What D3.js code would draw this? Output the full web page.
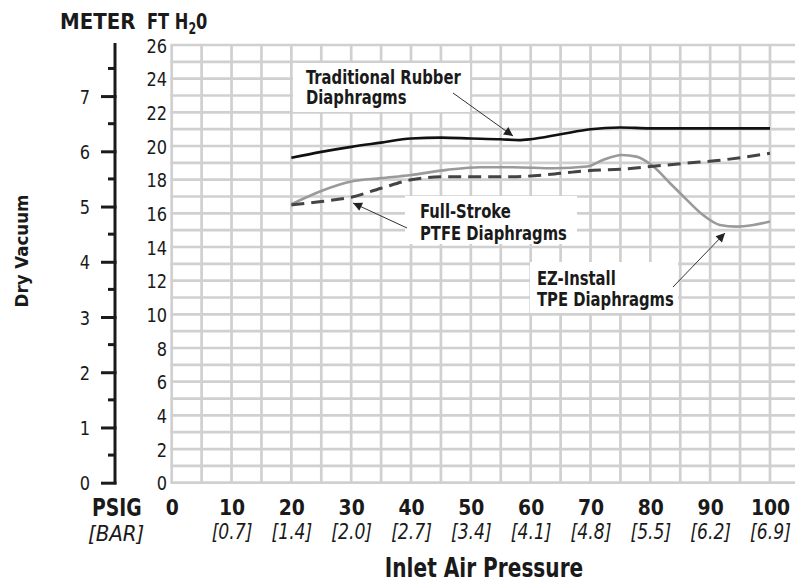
<!DOCTYPE html>
<html><head><meta charset="utf-8">
<script src="https://cdn.jsdelivr.net/npm/d3@7"></script>
<style>
body{margin:0;background:#fff;}
svg{display:block;}
</style></head>
<body>
<svg id="c" width="795" height="583"></svg>
<script>
// ---- data ----
const psigTicks = [0,10,20,30,40,50,60,70,80,90,100];
const barLabels = ["","[0.7]","[1.4]","[2.0]","[2.7]","[3.4]","[4.1]","[4.8]","[5.5]","[6.2]","[6.9]"];
const ftTicks = [0,2,4,6,8,10,12,14,16,18,20,22,24,26];
const meterTicks = [0,1,2,3,4,5,6,7];
const meterMinorTicks = [0.5,1.5,2.5,3.5,4.5,5.5,6.5,7.5];

const rubberPsi = [20,25,30,35,40,45,50,55,58,60,65,70,75,80,90,100];
const rubberFt  = [19.3,19.65,19.95,20.2,20.45,20.5,20.45,20.4,20.35,20.4,20.7,21.0,21.1,21.05,21.05,21.05];

const ptfePsi = [20,25,30,35,40,46,51,57,64,69,75,80,86,92,100];
const ptfeFt  = [16.5,16.7,16.96,17.49,17.99,18.18,18.18,18.18,18.34,18.52,18.62,18.78,18.98,19.17,19.57];

const tpePsi = [20,25,30,35,40,46,51.5,57,64,69.4,72.1,75.2,77.7,80.5,83.3,86.1,88.8,91.6,94.4,97.2,100];
const tpeFt  = [16.54,17.33,17.89,18.09,18.28,18.58,18.74,18.74,18.68,18.78,19.17,19.47,19.37,18.78,17.79,16.8,15.9,15.31,15.21,15.31,15.51];

const FONT = "'Liberation Sans Narrow','Arial Narrow','DejaVu Sans Condensed',sans-serif";
const INK = "#1a1a1a";

const svg = d3.select("#c");
const x = d3.scaleLinear().domain([0,100]).range([171.7,770]);
const y = d3.scaleLinear().domain([0,26]).range([482.7,45]);
const yM = d3.scaleLinear().domain([0,26/3.2808]).range([482.7,45]);

// grid
const g = svg.append("g");
g.selectAll("line.v").data(d3.range(0,110,5)).join("line")
  .attr("x1",d=>x(d)).attr("x2",d=>x(d)).attr("y1",y(26)).attr("y2",y(0))
  .attr("stroke","#d0d0d0").attr("stroke-width",2.7);
g.selectAll("line.h").data(d3.range(0,27,1)).join("line")
  .attr("x1",x(0)-1.3).attr("x2",795).attr("y1",d=>y(d)).attr("y2",d=>y(d))
  .attr("stroke","#d0d0d0").attr("stroke-width",2.7);

// meter axis
const mAxis = svg.append("g").attr("transform","translate(115,0)")
  .call(d3.axisLeft(yM).tickValues(meterTicks).tickSize(14).tickSizeOuter(0).tickFormat(d3.format("d")));
mAxis.select(".domain").attr("stroke",INK).attr("stroke-width",3)
  .attr("d",`M0,${yM(0)+1.5}V${y(26)-2}`);
mAxis.selectAll(".tick line").attr("stroke",INK).attr("stroke-width",3).attr("x2",-14).attr("x1",1.5);
mAxis.selectAll(".tick text").attr("x",-25/0.9).attr("transform","scale(0.9,1)").attr("font-family",FONT).attr("font-size",20).attr("fill",INK).attr("dy","0.35em");
svg.append("g").selectAll("line").data(meterMinorTicks).join("line")
  .attr("x1",108).attr("x2",116).attr("y1",d=>yM(d)).attr("y2",d=>yM(d))
  .attr("stroke",INK).attr("stroke-width",3);

// ft labels
const fAxis = svg.append("g").attr("transform","translate(167,0)")
  .call(d3.axisLeft(y).tickValues(ftTicks).tickSize(0).tickPadding(0));
fAxis.select(".domain").remove();
fAxis.selectAll(".tick text").attr("x",0).attr("transform","scale(0.9,1)").attr("font-family",FONT).attr("font-size",20).attr("fill",INK).attr("dy","0.35em");

// bottom axis psig
const bAxis = svg.append("g").attr("transform","translate(0,499)")
  .call(d3.axisBottom(x).tickValues(psigTicks).tickSize(0).tickPadding(0));
bAxis.select(".domain").remove();
bAxis.selectAll(".tick text").attr("transform","scale(0.95,1)").attr("font-family",FONT).attr("font-size",22).attr("font-weight","bold").attr("fill",INK).attr("dy","0.71em");
const barAxis = svg.append("g").attr("transform","translate(0,523)")
  .call(d3.axisBottom(x).tickValues(psigTicks).tickSize(0).tickPadding(0).tickFormat((d,i)=>barLabels[i]));
barAxis.select(".domain").remove();
barAxis.selectAll(".tick text").attr("transform","scale(0.87,1)").attr("font-family",FONT).attr("font-size",22).attr("font-style","italic").attr("fill",INK).attr("dy","0.71em");

// text helper with horizontal condensing
const T = (tx,ty,s,o,sx)=>{
  const t=svg.append("text").attr("transform",`translate(${tx},${ty}) scale(${sx||1},1)`)
    .attr("font-family",FONT).attr("fill",INK).text(s);
  Object.entries(o||{}).forEach(([k,v])=>t.attr(k,v)); return t;};
T(60,29,"METER",{"font-size":22,"font-weight":"bold"});
const fth = T(147,29,"FT H",{"font-size":22,"font-weight":"bold"},0.82);
fth.append("tspan").attr("font-size",15).attr("dy",5).text("2");
fth.append("tspan").attr("font-size",22).attr("dy",-5).text("0");
T(92,516,"PSIG",{"font-size":24,"font-weight":"bold"},0.87);
T(88,541,"[BAR]",{"font-size":22,"font-style":"italic"});
T(0,0,"Inlet Air Pressure",{"font-size":26,"font-weight":"bold","text-anchor":"middle","transform":"translate(484,577) scale(0.86,1)"});
T(0,0,"Dry Vacuum",{"font-size":18,"font-weight":"bold","text-anchor":"middle","transform":"translate(28,251) rotate(-90) scale(1.03,1)"});

// arrow marker
svg.append("defs").append("marker").attr("id","arr").attr("viewBox","0 0 10 10").attr("refX",10).attr("refY",5)
  .attr("markerWidth",15).attr("markerHeight",9).attr("markerUnits","userSpaceOnUse").attr("orient","auto")
  .append("path").attr("d","M0,0L10,5L0,10z").attr("fill","#222");

// annotation boxes
const boxes = [
  {x:293,y:63,w:177,h:49,l1:"Traditional Rubber",l2:"Diaphragms",tx:306,b1:84,b2:104,ax1:453,ay1:93,ax2:513,ay2:136},
  {x:405,y:196,w:172,h:48,l1:"Full-Stroke",l2:"PTFE Diaphragms",tx:420,b1:218,b2:240,ax1:407,ay1:228,ax2:353,ay2:203},
  {x:530,y:262,w:148,h:51,l1:"EZ-Install",l2:"TPE Diaphragms",tx:537,b1:285,b2:306,ax1:673,ay1:287,ax2:725,ay2:233}
];
boxes.forEach(b=>{
  svg.append("rect").attr("x",b.x).attr("y",b.y).attr("width",b.w).attr("height",b.h).attr("fill","#fff");
  T(b.tx,b.b1,b.l1,{"font-size":19,"font-weight":"bold"},0.866);
  T(b.tx,b.b2,b.l2,{"font-size":19,"font-weight":"bold"},0.866);
  svg.append("line").attr("x1",b.ax1).attr("y1",b.ay1).attr("x2",b.ax2).attr("y2",b.ay2)
    .attr("stroke","#333").attr("stroke-width",1).attr("marker-end","url(#arr)");
});

// curves
const line = d3.line().x(d=>x(d[0])).y(d=>y(d[1])).curve(d3.curveMonotoneX);
svg.append("path").datum(d3.zip(tpePsi,tpeFt)).attr("d",line).attr("fill","none").attr("stroke","#9a9a9a").attr("stroke-width",2.6);
svg.append("path").datum(d3.zip(ptfePsi,ptfeFt)).attr("d",line).attr("fill","none").attr("stroke","#444").attr("stroke-width",3).attr("stroke-dasharray","13,7");
svg.append("path").datum(d3.zip(rubberPsi,rubberFt)).attr("d",line).attr("fill","none").attr("stroke","#111").attr("stroke-width",2.6);
</script>
</body></html>
